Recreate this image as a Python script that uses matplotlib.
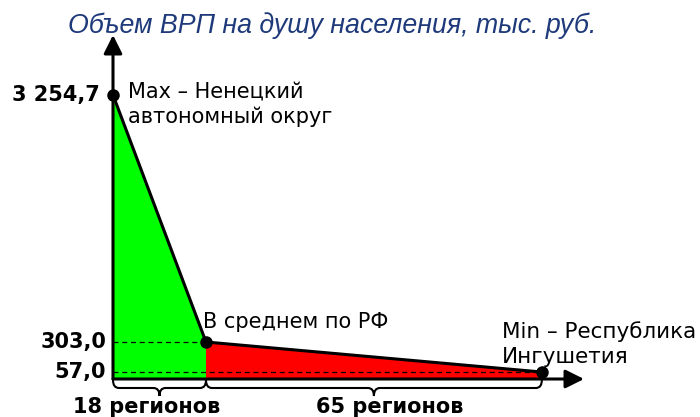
import numpy as np
import matplotlib
matplotlib.use("Agg")
import matplotlib.pyplot as plt
from matplotlib.path import Path
from matplotlib.patches import PathPatch

# данные: число регионов и ВРП на душу населения, тыс. руб.
group_names = ["18 регионов", "65 регионов"]
group_counts = [18, 65]
point_labels = ["Max \u2013 Ненецкий\nавтономный округ", "В среднем по РФ",
                "Min \u2013 Республика\nИнгушетия"]
value_labels = ["3 254,7", "303,0", "57,0"]
values = [3254.7, 303.0, 57.0]
title = "Объем ВРП на душу населения, тыс. руб."

x_pts = np.cumsum([0] + group_counts)          # 0, 18, 83
y_pts = np.array(values)

# ось Y "сжата" выше среднего значения
brk = values[1]
k = 0.6854


def fwd(v):
    v = np.asarray(v, dtype=float)
    return np.where(v <= brk, v, brk + (v - brk) * k)


def inv(t):
    t = np.asarray(t, dtype=float)
    return np.where(t <= brk, t, brk + (t - brk) / k)


W, H = 700, 417
px_x = 93 / 18.0            # пикселей на регион
px_y = 37 / 303.0           # пикселей на единицу (линейная часть)
x0_px, y0_px = 113, 379     # начало координат в пикселях (сверху)

fig = plt.figure(figsize=(W / 100, H / 100), dpi=100)
ax = fig.add_axes([0, 0, 1, 1])
ax.set_yscale("function", functions=(fwd, inv))
ax.set_xlim(-x0_px / px_x, (W - x0_px) / px_x)
ylo = -(H - y0_px) / px_y
yhi = y0_px / px_y
ax.set_ylim(float(inv(ylo)), float(inv(yhi)))
ax.axis("off")


def ydata(px_from_top):
    return float(inv((y0_px - px_from_top) / px_y))


def xdata(px):
    return (px - x0_px) / px_x


green = "#00FF00"
red = "#FF0000"

# области
ax.fill([x_pts[0], x_pts[0], x_pts[1], x_pts[1]], [0, y_pts[0], y_pts[1], 0],
        color=green, lw=0, zorder=1)
ax.fill([x_pts[1], x_pts[1], x_pts[2], x_pts[2]], [0, y_pts[1], y_pts[2], 0],
        color=red, lw=0, zorder=1)

# пунктир
ax.plot([0, x_pts[1]], [y_pts[1], y_pts[1]], color="black", lw=0.9,
        ls=(0, (4, 3)), zorder=2)
ax.plot([0, x_pts[2]], [y_pts[2], y_pts[2]], color="black", lw=0.9,
        ls=(0, (4, 3)), zorder=2)

# линия и точки
ax.plot(x_pts, y_pts, color="black", lw=2.2, zorder=3, solid_joinstyle="round")
ax.plot(x_pts, y_pts, "o", color="black", ms=8, zorder=5)

# оси со стрелками
arrow = dict(arrowstyle="-|>,head_length=0.8,head_width=0.4", color="black",
             lw=2.2, mutation_scale=14, shrinkA=0, shrinkB=0)
ax.annotate("", xy=(0, ydata(35)), xytext=(0, 0), arrowprops=arrow, zorder=4)
ax.annotate("", xy=(xdata(584), 0), xytext=(0, 0), arrowprops=arrow, zorder=4)


# фигурные скобки
def brace(xa, xb):
    r = 6 / px_x
    xm = (xa + xb) / 2
    y1 = ydata(y0_px + 9)
    y2 = ydata(y0_px + 17)
    y0 = ydata(y0_px + 1)
    verts = [(xa, y0), (xa, y1), (xa + r, y1),
             (xm - r, y1), (xm, y1), (xm, y2),
             (xm, y1), (xm + r, y1),
             (xb - r, y1), (xb, y1), (xb, y0)]
    codes = [Path.MOVETO, Path.CURVE3, Path.CURVE3,
             Path.LINETO, Path.CURVE3, Path.CURVE3,
             Path.CURVE3, Path.CURVE3,
             Path.LINETO, Path.CURVE3, Path.CURVE3]
    ax.add_patch(PathPatch(Path(verts, codes), fill=False, lw=1.5,
                           edgecolor="black", zorder=4))


brace(x_pts[0], x_pts[1])
brace(x_pts[1], x_pts[2])

fs = 15
font = "DejaVu Sans"

# подписи значений
ax.text(xdata(100), y_pts[0], value_labels[0], ha="right", va="center",
        fontsize=fs, fontweight="bold", family=font)
ax.text(xdata(106), y_pts[1], value_labels[1], ha="right", va="center",
        fontsize=fs, fontweight="bold", family=font)
ax.text(xdata(106), y_pts[2], value_labels[2], ha="right", va="center",
        fontsize=fs, fontweight="bold", family=font)

# подписи точек
ax.text(xdata(128), ydata(82), point_labels[0], ha="left", va="top",
        fontsize=fs, family=font, linespacing=1.3)
ax.text(xdata(203), ydata(322), point_labels[1], ha="left", va="center",
        fontsize=fs, family=font)
ax.text(xdata(502), ydata(321), point_labels[2], ha="left", va="top",
        fontsize=15.5, family=font, linespacing=1.3)

# подписи групп
ax.text(xdata(147), ydata(407), group_names[0], ha="center", va="center",
        fontsize=fs, fontweight="bold", family=font)
ax.text(xdata(390), ydata(407), group_names[1], ha="center", va="center",
        fontsize=fs, fontweight="bold", family=font)

# заголовок
fig.text(332 / W, 1 - 26 / H, title, ha="center", va="center", fontsize=19.3,
         style="italic", color="#1F3A7A", family="Liberation Sans")

fig.savefig("out.png", dpi=100)
